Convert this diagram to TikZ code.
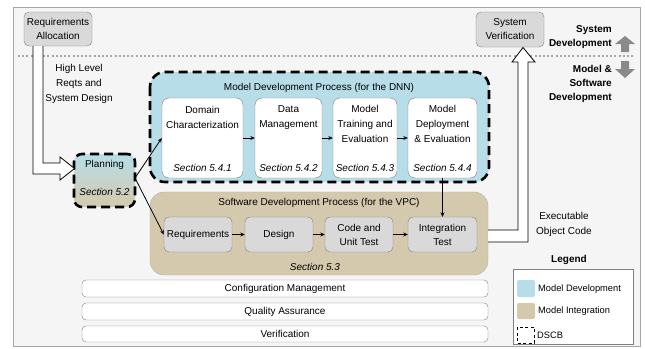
\documentclass[tikz,border=0pt]{standalone}
\usepackage{fontspec}
\setmainfont{Liberation Sans}
\usetikzlibrary{arrows.meta,calc}

\definecolor{mdblue}{HTML}{B7DEE8}
\definecolor{mitan}{HTML}{D5C9AD}
\definecolor{boxgray}{HTML}{D9D9D9}
\definecolor{edgegray}{HTML}{7F7F7F}
\definecolor{bggray}{HTML}{F5F5F5}
\definecolor{arrowgray}{HTML}{8A8A8A}

\tikzset{
  txt/.style={inner sep=0pt, align=center, font=\fontsize{10}{15}\selectfont},
  sect/.style={inner sep=0pt, font=\fontsize{10}{12}\selectfont\itshape},
  graybox/.style={draw=edgegray, fill=boxgray, rounded corners=5pt, inner sep=0pt,
    align=center, font=\fontsize{10}{14}\selectfont},
  stagebox/.style={draw=edgegray, fill=white, rounded corners=7pt, inner sep=0pt,
    minimum height=80pt},
  swbox/.style={graybox, minimum height=35pt},
  bar/.style={draw=edgegray, fill=white, rounded corners=4pt, inner sep=0pt,
    minimum width=406pt, font=\fontsize{10}{12}\selectfont},
  dscb/.style={draw=black, line width=2.6pt, dash pattern=on 9pt off 5pt},
  conn/.style={-{Stealth[length=4.5pt,width=4pt]}, line width=0.8pt},
  hollow/.style={draw=black, fill=white, line width=0.8pt, line join=miter},
  bigarrow/.style={fill=arrowgray, draw=none},
  boldlbl/.style={inner sep=0pt, align=right, font=\fontsize{10}{14}\selectfont\bfseries},
}

\begin{document}
\begin{tikzpicture}[x=1pt,y=-1pt]
\useasboundingbox (0,0) rectangle (645,348);

% frame and background
\fill[white] (0,0) rectangle (645,348);
\draw[draw=gray!70, fill=bggray] (13,7) rectangle (640,346);

% boundary between system and model/software levels
\draw[gray!70, line width=1.8pt, dash pattern=on 2pt off 2.2pt] (18,56) -- (634,56);

% system level boxes
\node[graybox, minimum width=68pt, minimum height=34pt] (alloc) at (58,29)
  {Requirements\\Allocation};
\node[graybox, minimum width=68pt, minimum height=35pt] (sysver) at (510,29.5)
  {System\\Verification};

% level labels with gray block arrows
\node[boldlbl, anchor=east] (sysdev) at (612,37) {System\\Development};
\node[boldlbl, anchor=east] (mswdev) at (612,84) {Model \&\\Software\\Development};
\fill[bigarrow] (621,52) -- (621,44) -- (615,44) -- (625,36) -- (635,44) -- (629,44) -- (629,52) -- cycle;
\fill[bigarrow] (621,61) -- (621,69) -- (615,69) -- (625,78) -- (635,69) -- (629,69) -- (629,61) -- cycle;

% model development process
\draw[dscb, fill=mdblue, rounded corners=15pt] (150,72) rectangle (489,182);
\node[txt] (mdtitle) at (319,88) {Model Development Process (for the DNN)};

\node[stagebox, minimum width=81pt] (dom) at (202.5,138) {};
\node[stagebox, minimum width=67pt] (data) at (288.5,138) {};
\node[stagebox, minimum width=64pt] (train) at (365,138) {};
\node[stagebox, minimum width=69pt] (dep) at (442.5,138) {};

\node[txt] (domtxt) at (202.5,117.5) {Domain\\Characterization};
\node[txt] (datatxt) at (288.5,117.5) {Data\\Management};
\node[txt] (traintxt) at (365,124) {Model\\Training and\\Evaluation};
\node[txt] (deptxt) at (442.5,124) {Model\\Deployment\\\& Evaluation};
\node[sect] (domsec) at (202.5,168) {Section 5.4.1};
\node[sect] (datasec) at (288.5,168) {Section 5.4.2};
\node[sect] (trainsec) at (365,168) {Section 5.4.3};
\node[sect] (depsec) at (442.5,168) {Section 5.4.4};

\draw[conn] (dom) -- (data);
\draw[conn] (data) -- (train);
\draw[conn] (train) -- (dep);

% software development process
\draw[draw=edgegray!60, fill=mitan, rounded corners=14pt] (150,192) rectangle (488,275);
\node[txt] (swtitle) at (319,203) {Software Development Process (for the VPC)};
\node[sect] (swsec) at (315,267) {Section 5.3};

\node[swbox, minimum width=68pt] (req) at (198,234.5) {Requirements};
\node[swbox, minimum width=68pt] (des) at (279,234.5) {Design};
\node[swbox, minimum width=68pt] (code) at (359,234.5) {Code and\\Unit Test};
\node[swbox, minimum width=69pt] (integ) at (442.5,234.5) {Integration\\Test};

\draw[conn] (req) -- (des);
\draw[conn] (des) -- (code);
\draw[conn] (code) -- (integ);
\draw[conn] (dep.south) -- (integ.north);

% planning
\node[dscb, top color=mdblue, bottom color=mitan, rounded corners=8pt,
  minimum width=61pt, minimum height=53pt, inner sep=0pt] (plan) at (104.5,180.5) {};
\node[txt] (plantxt) at (104.5,165) {Planning};
\node[sect] (plansec) at (104.5,192) {Section 5.2};

\coordinate (planout) at (135,178);
\draw[conn] (planout) -- (dom.west);
\draw[conn] (planout) -- (req.west);

% high level requirements flow into planning
\draw[hollow] (33,46) -- (33,174) -- (60,174) -- (60,180) -- (74.5,168.5)
  -- (60,157) -- (60,163) -- (43,163) -- (43,46);
\node[txt] (hlr) at (79,83.5) {High Level\\Reqts and\\System Design};

% executable object code back to system verification
\draw[hollow] (488,230) -- (518,230) -- (518,62) -- (512,62) -- (523,47.5)
  -- (535,62) -- (528,62) -- (528,242) -- (488,242);
\node[txt] (eoc) at (564,224.5) {Executable\\Object Code};

% integral processes
\node[bar, minimum height=17pt] (cm) at (285,288.5) {Configuration Management};
\node[bar, minimum height=17pt] (qa) at (285,311.5) {Quality Assurance};
\node[bar, minimum height=16pt] (ver) at (285,334) {Verification};

% legend
\node[inner sep=0pt, font=\fontsize{10}{12}\selectfont\bfseries] (legtitle) at (569,260) {Legend};
\draw[draw=edgegray, fill=white] (513,269) rectangle (633,344);
\fill[mdblue, rounded corners=2pt] (517,280) rectangle (535,297);
\fill[mitan, rounded corners=2pt] (517,303) rectangle (535,319);
\draw[black, line width=0.8pt, dash pattern=on 3pt off 2.5pt] (517,327) rectangle (534,343);
\node[inner sep=0pt, anchor=west, font=\fontsize{9.3}{11}\selectfont] (legmd) at (538,289) {Model Development};
\node[inner sep=0pt, anchor=west, font=\fontsize{9.3}{11}\selectfont] (legmi) at (538,311) {Model Integration};
\node[inner sep=0pt, anchor=west, font=\fontsize{9.3}{11}\selectfont] (legds) at (537,335) {DSCB};
\end{tikzpicture}
\end{document}
